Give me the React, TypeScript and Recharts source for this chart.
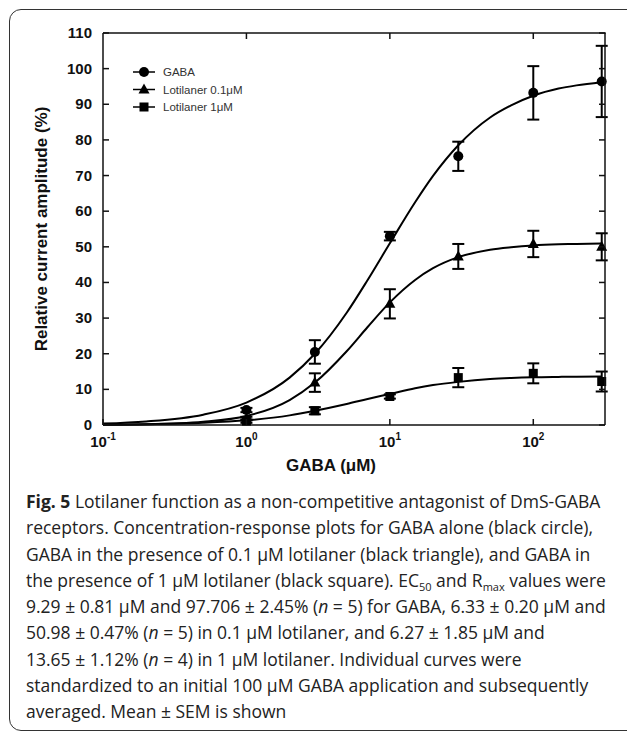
import React from "react";
import { ComposedChart, Line, Scatter, ErrorBar, XAxis, YAxis } from "recharts";

// ---- data ----
const concentrations = [1, 3, 10, 30, 100, 300];
const gabaMean = [4.2, 20.5, 53.0, 75.4, 93.2, 96.4];
const gabaSem = [0.6, 3.3, 1.2, 4.1, 7.5, 10.0];
const lot01Mean = [1.8, 11.9, 34.0, 47.3, 50.8, 50.0];
const lot01Sem = [0.5, 2.6, 4.1, 3.5, 3.7, 3.8];
const lot1Mean = [1.1, 4.0, 8.0, 13.3, 14.5, 12.2];
const lot1Sem = [0.5, 1.0, 0.6, 2.7, 2.8, 2.8];

const curveX = [0.1, 0.2, 0.5, 1, 2, 3, 5, 7, 10, 15, 20, 30, 50, 70, 100, 150, 200, 300];
const gabaCurve = [0.4, 1.0, 2.9, 6.3, 13.3, 20.0, 31.5, 40.7, 51.0, 62.5, 69.9, 78.5, 86.3, 89.7, 92.4, 94.4, 95.3, 96.2];
const lot01Curve = [0.07, 0.2, 0.9, 2.5, 7.0, 11.9, 20.7, 27.5, 34.4, 40.7, 44.0, 47.1, 49.2, 49.9, 50.4, 50.7, 50.8, 50.9];
const lot1Curve = [0.08, 0.2, 0.6, 1.3, 2.7, 4.0, 5.9, 7.3, 8.7, 10.3, 11.2, 12.1, 12.9, 13.2, 13.4, 13.5, 13.55, 13.6];

const xDomain = [0.1, 316.23];
const yDomain = [0, 110];
const xTicks = [0.1, 1, 10, 100];
const yTicks = [0, 10, 20, 30, 40, 50, 60, 70, 80, 90, 100, 110];
const seriesNames = ["GABA", "Lotilaner 0.1\u03BCM", "Lotilaner 1\u03BCM"];

const pts = (m: number[], e: number[]) => concentrations.map((x, i) => ({ x, y: m[i], err: e[i] }));
const crv = (v: number[]) => curveX.map((x, i) => ({ x, y: v[i] }));

// chart geometry
const CHART_W = 627;
const CHART_H = 480;
const MARGIN = { top: 33, right: 22, bottom: 0, left: 43 };
const Y_AXIS_W = 60;
const X_AXIS_H = 55;
const PLOT_W = CHART_W - MARGIN.left - MARGIN.right - Y_AXIS_W;
const PLOT_H = CHART_H - MARGIN.top - MARGIN.bottom - X_AXIS_H;

const INK = "#111";
const AX_FONT = "'Liberation Sans', Arial, sans-serif";

const CircleShape = (p: any) => <circle cx={p.cx} cy={p.cy} r={5} fill="#000" />;
const TriShape = (p: any) => (
  <polygon points={`${p.cx},${p.cy - 6} ${p.cx - 5.5},${p.cy + 4} ${p.cx + 5.5},${p.cy + 4}`} fill="#000" />
);
const SquareShape = (p: any) => <rect x={p.cx - 4.5} y={p.cy - 4.5} width={9} height={9} fill="#000" />;

// bottom tick: inward tick at bottom + mirrored inward tick at the top edge + label
const XTickBottom = (p: any) => {
  const v = p.payload.value;
  const exp = Math.round(Math.log10(v));
  const yTop = p.y - PLOT_H;
  return (
    <g>
      <line x1={p.x} x2={p.x} y1={p.y} y2={p.y - 6} stroke={INK} strokeWidth={1.5} />
      {v !== xDomain[0] && <line x1={p.x} x2={p.x} y1={yTop} y2={yTop + 6} stroke={INK} strokeWidth={1.5} />}
      <text x={p.x} y={p.y + 22} textAnchor="middle" fontFamily={AX_FONT} fontWeight="bold" fontSize={15} fill={INK}>
        <tspan>10</tspan>
        <tspan dy={-7} fontSize={10}>{exp}</tspan>
      </text>
    </g>
  );
};
// left tick: inward tick + mirrored inward tick on the right edge + label; also draws top/right frame edges
const YTickLeft = (p: any) => {
  const v = p.payload.value;
  const xRight = p.x + PLOT_W;
  return (
    <g>
      <line x1={p.x} x2={p.x + 6} y1={p.y} y2={p.y} stroke={INK} strokeWidth={1.5} />
      <line x1={xRight} x2={xRight - 6} y1={p.y} y2={p.y} stroke={INK} strokeWidth={1.5} />
      {v === yDomain[1] && <line x1={p.x} x2={xRight + 0.75} y1={p.y} y2={p.y} stroke={INK} strokeWidth={1.5} />}
      {v === yDomain[0] && <line x1={xRight} x2={xRight} y1={p.y} y2={p.y - PLOT_H} stroke={INK} strokeWidth={1.5} />}
      <text x={p.x - 11} y={p.y + 5} textAnchor="end" fontFamily={AX_FONT} fontWeight="bold" fontSize={15} fill={INK}>
        {v}
      </text>
    </g>
  );
};

const LegendBox = () => {
  const shapes = [CircleShape, TriShape, SquareShape];
  return (
    <svg width={140} height={60} style={{ display: "block" }}>
      {seriesNames.map((n, i) => {
        const cy = 8 + i * 17.5;
        const S = shapes[i];
        return (
          <g key={n}>
            <line x1={4} x2={26} y1={cy} y2={cy} stroke="#000" strokeWidth={1.5} />
            <S cx={15} cy={cy} />
            <text x={34} y={cy + 4} fontFamily={AX_FONT} fontSize={11.5} fill="#333">
              {n}
            </text>
          </g>
        );
      })}
    </svg>
  );
};

const subStyle: React.CSSProperties = { fontSize: 11, lineHeight: 0, verticalAlign: "baseline", position: "relative", top: 4 };

export default function App() {
  return (
    <div style={{ position: "absolute", left: 0, top: 0, width: 627, height: 732, overflow: "hidden", background: "#fff" }}>
      <div
        style={{
          position: "absolute",
          left: 9,
          top: 9,
          width: 640,
          height: 722,
          border: "1.5px solid #333",
          borderRadius: 12,
          boxSizing: "border-box",
        }}
      />
      <div style={{ position: "absolute", left: 0, top: 0 }}>
        <ComposedChart width={CHART_W} height={CHART_H} margin={MARGIN}>
          <XAxis
            dataKey="x"
            type="number"
            scale="log"
            domain={xDomain}
            ticks={xTicks}
            height={X_AXIS_H}
            tickSize={0}
            tickMargin={0}
            tickLine={false}
            tick={<XTickBottom />}
            axisLine={{ stroke: INK, strokeWidth: 1.5 }}
          />
          <YAxis
            dataKey="y"
            type="number"
            domain={yDomain}
            ticks={yTicks}
            width={Y_AXIS_W}
            tickSize={0}
            tickMargin={0}
            tickLine={false}
            tick={<YTickLeft />}
            axisLine={{ stroke: INK, strokeWidth: 1.5 }}
          />
          <Line data={crv(gabaCurve)} dataKey="y" type="monotone" dot={false} stroke="#000" strokeWidth={2} isAnimationActive={false} />
          <Line data={crv(lot01Curve)} dataKey="y" type="monotone" dot={false} stroke="#000" strokeWidth={2} isAnimationActive={false} />
          <Line data={crv(lot1Curve)} dataKey="y" type="monotone" dot={false} stroke="#000" strokeWidth={2} isAnimationActive={false} />
          <Scatter data={pts(gabaMean, gabaSem)} dataKey="y" shape={CircleShape} isAnimationActive={false} name={seriesNames[0]}>
            <ErrorBar dataKey="err" direction="y" width={6} strokeWidth={2} stroke="#000" />
          </Scatter>
          <Scatter data={pts(lot01Mean, lot01Sem)} dataKey="y" shape={TriShape} isAnimationActive={false} name={seriesNames[1]}>
            <ErrorBar dataKey="err" direction="y" width={6} strokeWidth={2} stroke="#000" />
          </Scatter>
          <Scatter data={pts(lot1Mean, lot1Sem)} dataKey="y" shape={SquareShape} isAnimationActive={false} name={seriesNames[2]}>
            <ErrorBar dataKey="err" direction="y" width={6} strokeWidth={2} stroke="#000" />
          </Scatter>
        </ComposedChart>
      </div>
      <div style={{ position: "absolute", left: 129, top: 64 }}>
        <LegendBox />
      </div>
      <div
        style={{
          position: "absolute",
          left: 42,
          top: 229,
          transform: "translate(-50%, -50%) rotate(-90deg)",
          fontFamily: AX_FONT,
          fontWeight: "bold",
          fontSize: 17,
          color: INK,
          whiteSpace: "nowrap",
        }}
      >
        Relative current amplitude (%)
      </div>
      <div
        style={{
          position: "absolute",
          left: 331,
          top: 466,
          transform: "translate(-50%, -50%)",
          fontFamily: AX_FONT,
          fontWeight: "bold",
          fontSize: 17,
          color: INK,
          whiteSpace: "nowrap",
        }}
      >
        GABA (μM)
      </div>
      <div
        style={{
          position: "absolute",
          left: 26,
          top: 488,
          fontFamily: "'Open Sans', sans-serif",
          fontSize: 17.5,
          lineHeight: "26.25px",
          color: "#222",
          whiteSpace: "nowrap",
        }}
      >
        <div>
          <b>Fig. 5</b> Lotilaner function as a non-competitive antagonist of DmS-GABA
        </div>
        <div>receptors. Concentration-response plots for GABA alone (black circle),</div>
        <div>GABA in the presence of 0.1 μM lotilaner (black triangle), and GABA in</div>
        <div>
          the presence of 1 μM lotilaner (black square). EC<span style={subStyle}>50</span> and R
          <span style={subStyle}>max</span> values were
        </div>
        <div>
          9.29 ± 0.81 μM and 97.706 ± 2.45% (<i>n</i> = 5) for GABA, 6.33 ± 0.20 μM and
        </div>
        <div>
          50.98 ± 0.47% (<i>n</i> = 5) in 0.1 μM lotilaner, and 6.27 ± 1.85 μM and
        </div>
        <div>
          13.65 ± 1.12% (<i>n</i> = 4) in 1 μM lotilaner. Individual curves were
        </div>
        <div>standardized to an initial 100 μM GABA application and subsequently</div>
        <div>averaged. Mean ± SEM is shown</div>
      </div>
    </div>
  );
}
